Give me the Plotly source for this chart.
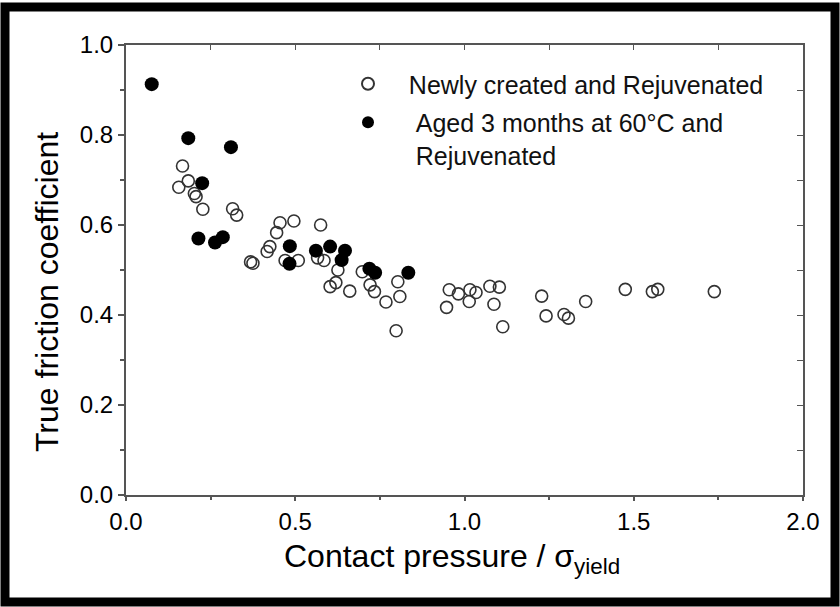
import plotly.graph_objects as go

# Newly created and Rejuvenated (open circles)
new_x = [0.156, 0.167, 0.184, 0.202, 0.207, 0.227, 0.315, 0.327, 0.368, 0.375,
         0.417, 0.425, 0.445, 0.455, 0.470, 0.496, 0.509, 0.575, 0.566, 0.585,
         0.626, 0.603, 0.620, 0.661, 0.698, 0.721, 0.734, 0.768, 0.798, 0.803,
         0.809, 0.947, 0.955, 0.982, 1.014, 1.016, 1.034, 1.075, 1.087, 1.103,
         1.113, 1.228, 1.241, 1.294, 1.307, 1.358, 1.475, 1.555, 1.571, 1.738]
new_y = [0.684, 0.731, 0.698, 0.670, 0.663, 0.635, 0.636, 0.622, 0.518, 0.515,
         0.541, 0.552, 0.583, 0.605, 0.521, 0.609, 0.521, 0.600, 0.527, 0.521,
         0.500, 0.463, 0.472, 0.453, 0.496, 0.467, 0.452, 0.429, 0.365, 0.474,
         0.441, 0.417, 0.456, 0.447, 0.430, 0.456, 0.450, 0.464, 0.424, 0.462,
         0.374, 0.442, 0.398, 0.401, 0.393, 0.430, 0.457, 0.452, 0.457, 0.452]

# Aged 3 months at 60°C and Rejuvenated (filled circles)
aged_x = [0.076, 0.184, 0.310, 0.225, 0.214, 0.263, 0.286, 0.484, 0.483,
          0.561, 0.603, 0.647, 0.637, 0.719, 0.736, 0.834]
aged_y = [0.913, 0.793, 0.773, 0.693, 0.570, 0.561, 0.573, 0.553, 0.514,
          0.543, 0.552, 0.543, 0.522, 0.503, 0.494, 0.494]

x_ticks = [0.0, 0.5, 1.0, 1.5, 2.0]
y_ticks = [0.0, 0.2, 0.4, 0.6, 0.8, 1.0]

x_title = "Contact pressure / σ<sub>yield</sub>"
y_title = "True friction coefficient"

FONT = "Arial, Liberation Sans, sans-serif"
SP3 = "&nbsp;" * 3
SP4 = "&nbsp;" * 4

fig = go.Figure()
fig.add_trace(go.Scatter(
    x=new_x, y=new_y, mode="markers", name=SP3 + "Newly created and Rejuvenated",
    legendgroup="a",
    marker=dict(symbol="circle-open", size=12, color="#333333", line=dict(width=1.6, color="#333333")),
))
fig.add_trace(go.Scatter(
    x=aged_x, y=aged_y, mode="markers",
    name=SP4 + "Aged 3 months at 60°C and<br>" + SP4 + "Rejuvenated",
    legendgroup="b",
    marker=dict(symbol="circle", size=14, color="#000000"),
))

W, H = 840, 607
L, R, T, B = 126, 37, 45, 112
pw, ph = W - L - R, H - T - B

def px(x):
    return (x - L) / pw

def py(y):
    return (H - B - y) / ph

axis_common = dict(
    showgrid=False, zeroline=False, showline=True, linecolor="#555555", linewidth=2,
    tickfont=dict(family=FONT, size=24, color="#000000"), ticks="outside",
    tickcolor="#555555", tickwidth=1.5,
)

fig.update_layout(
    width=W, height=H,
    margin=dict(l=L, r=R, t=T, b=B),
    paper_bgcolor="white", plot_bgcolor="white",
    font=dict(family=FONT, color="#000000"),
    showlegend=True,
    legend=dict(
        x=px(348), y=py(61), xanchor="left", yanchor="top",
        font=dict(family=FONT, size=25, color="#111111"),
        bgcolor="rgba(0,0,0,0)", valign="top", tracegroupgap=3,
        itemsizing="constant",
    ),
    xaxis=dict(
        range=[0, 2.0], tickvals=x_ticks, ticktext=[f"{v:.1f}" for v in x_ticks],
        ticklen=4, mirror=True,
        minor=dict(dtick=0.25, ticks="outside", ticklen=3, tickcolor="#555555"),
        **axis_common,
    ),
    yaxis=dict(
        range=[0, 1.0], tickvals=y_ticks, ticktext=[f"{v:.1f}" for v in y_ticks],
        ticklen=6, mirror=True,
        minor=dict(dtick=0.1, ticks="outside", ticklen=4, tickcolor="#555555"),
        **axis_common,
    ),
    # inward ticks on top and right sides
    xaxis2=dict(overlaying="x", side="top", matches="x", range=[0, 2.0],
                tickvals=[0.25, 0.5, 0.75, 1.0, 1.25, 1.5, 1.75], showticklabels=False,
                ticks="inside", ticklen=5, tickcolor="#555555", showgrid=False,
                zeroline=False, showline=False),
    yaxis2=dict(overlaying="y", side="right", matches="y", range=[0, 1.0],
                tickvals=[0.1, 0.2, 0.3, 0.4, 0.5, 0.6, 0.7, 0.8, 0.9],
                showticklabels=False, ticks="inside", ticklen=6, tickcolor="#555555",
                showgrid=False, zeroline=False, showline=False),
)

# axis titles placed as annotations to match the reference position
fig.add_annotation(text=x_title, xref="paper", yref="paper", x=px(452), y=py(558),
                   xanchor="center", yanchor="middle", showarrow=False,
                   font=dict(family=FONT, size=32, color="#000000"))
fig.add_annotation(text=y_title, xref="paper", yref="paper", x=px(47), y=py(292),
                   xanchor="center", yanchor="middle", showarrow=False, textangle=-90,
                   font=dict(family=FONT, size=32, color="#000000"))

# dummy invisible trace to activate secondary axes
fig.add_trace(go.Scatter(x=[None], y=[None], xaxis="x2", yaxis="y2",
                         showlegend=False, hoverinfo="skip"))

# thick black frame around the whole image
fig.add_shape(type="rect", xref="paper", yref="paper",
              x0=px(5), x1=px(835), y0=py(602), y1=py(7),
              line=dict(color="#000000", width=9), fillcolor="rgba(0,0,0,0)",
              layer="above")

fig.write_html("out.html")
